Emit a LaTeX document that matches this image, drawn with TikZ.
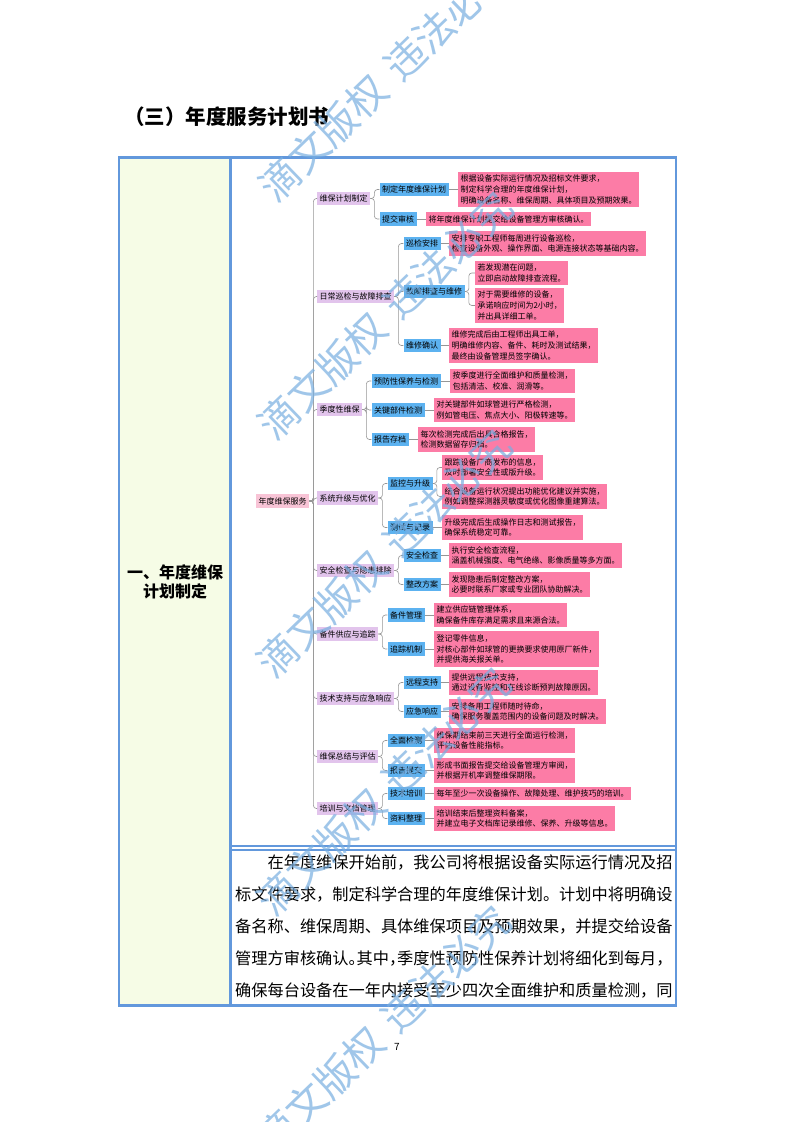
\documentclass[tikz,border=0pt]{standalone}
\usepackage{fontspec}
\setmainfont{Noto Sans CJK SC}
\usetikzlibrary{calc,positioning}
\definecolor{tblue}{RGB}{98,152,220}
\definecolor{lfill}{RGB}{246,252,230}
\definecolor{rootc}{RGB}{248,196,214}
\definecolor{lonec}{RGB}{226,196,236}
\definecolor{ltwoc}{RGB}{92,178,240}
\definecolor{leafc}{RGB}{252,124,166}
\definecolor{wmc}{RGB}{120,175,225}
\definecolor{connc}{RGB}{150,150,150}
\tikzset{
  mm/.style={inner xsep=2.5pt, inner ysep=3pt, font=\fontsize{8}{10.8}\selectfont, align=left, text=black, anchor=west},
  rootbox/.style={mm, fill=rootc},
  lone/.style={mm, fill=lonec},
  ltwo/.style={mm, fill=ltwoc},
  leaf/.style={mm, fill=leafc},
  conn/.style={draw=connc, line width=0.6pt, rounded corners=3pt},
  tline/.style={draw=tblue, line width=2.5pt},
  cline/.style={draw=tblue, line width=2pt},
  bodyline/.style={anchor=west, inner sep=0pt, font=\fontsize{16.2}{18}\selectfont},
  wm/.style={text=wmc, opacity=0.7, rotate=44, anchor=west, inner sep=0pt, font=\fontsize{40}{42}\selectfont},
}
\newcommand{\hp}[1]{{\addfontfeature{RawFeature=+halt}#1}}
\begin{document}
\begin{tikzpicture}[x=1pt,y=-1pt]
\useasboundingbox (0,0) rectangle (793,1122);
\fill[white] (0,0) rectangle (793,1122);
% title
\node[font=\fontsize{20.5}{24}\selectfont\bfseries, anchor=west, inner sep=0pt] (title) at (124,117) {（三）年度服务计划书};
% table
\fill[lfill] (120,158) rectangle (230,1004);
\draw[tline] (118.75,157.25) rectangle (675.75,1005.25);
\draw[tline] (230.5,157.25) -- (230.5,1005.25);
\draw[cline] (231,845.5) -- (675,845.5);
\draw[cline] (231,849.5) -- (675,849.5);
\node[font=\fontsize{16}{19.5}\selectfont\bfseries, align=center] (lab) at (175,582) {一、年度维保\\计划制定};
% body text
\node[bodyline] (p1) at (267.4,862) {在年度维保开始前，我公司将根据设备实际运行情况及招};
\node[bodyline] (p2) at (235,894) {标文件要求，制定科学合理的年度维保计划。计划中将明确设};
\node[bodyline] (p3) at (235,926) {备名称、维保周期、具体维保项目及预期效果，并提交给设备};
\node[bodyline] (p4) at (235,958) {管理方审核确认\hp{。}其中\hp{，}季度性预防性保养计划将细化到每月，};
\node[bodyline] (p5) at (235,990) {确保每台设备在一年内接受至少四次全面维护和质量检测，同};
% page number
\node[font=\fontsize{10}{12}\selectfont, inner sep=0pt] (pg) at (397,1047) {7};

% mind map
\node[rootbox] (root) at (256,501) {年度维保服务};
\node[lone] (n1) at (317,198.5) {维保计划制定};
\node[lone] (n2) at (317,296.5) {日常巡检与故障排查};
\node[lone] (n3) at (317,409.5) {季度性维保};
\node[lone] (n4) at (317,498) {系统升级与优化};
\node[lone] (n5) at (317,570.5) {安全检查与隐患排除};
\node[lone] (n6) at (317,634) {备件供应与追踪};
\node[lone] (n7) at (317,698.5) {技术支持与应急响应};
\node[lone] (n8) at (317,756.5) {维保总结与评估};
\node[lone] (n9) at (317,808.5) {培训与文档管理};
\foreach \n in {n1,n2,n3,n4,n5,n6,n7,n8,n9}
  \draw[conn] (root.east) -- ++(4,0) |- (\n.west);

% level 2
\node[ltwo] (a1) at ($(n1.east |- 0,189.5)+(9,0)$) {制定年度维保计划};
\node[ltwo] (a2) at ($(n1.east |- 0,219)+(9,0)$) {提交审核};
\node[ltwo] (b1) at ($(n2.east |- 0,243.5)+(9,0)$) {巡检安排};
\node[ltwo] (b2) at ($(n2.east |- 0,291.5)+(9,0)$) {故障排查与维修};
\node[ltwo] (b3) at ($(n2.east |- 0,345.5)+(9,0)$) {维修确认};
\node[ltwo] (c1) at ($(n3.east |- 0,381)+(9,0)$) {预防性保养与检测};
\node[ltwo] (c2) at ($(n3.east |- 0,410)+(9,0)$) {关键部件检测};
\node[ltwo] (c3) at ($(n3.east |- 0,439.5)+(9,0)$) {报告存档};
\node[ltwo] (d1) at ($(n4.east |- 0,483.5)+(9,0)$) {监控与升级};
\node[ltwo] (d2) at ($(n4.east |- 0,527.5)+(9,0)$) {测试与记录};
\node[ltwo] (e1) at ($(n5.east |- 0,555.5)+(9,0)$) {安全检查};
\node[ltwo] (e2) at ($(n5.east |- 0,584.5)+(9,0)$) {整改方案};
\node[ltwo] (f1) at ($(n6.east |- 0,615)+(9,0)$) {备件管理};
\node[ltwo] (f2) at ($(n6.east |- 0,649)+(9,0)$) {追踪机制};
\node[ltwo] (g1) at ($(n7.east |- 0,682.5)+(9,0)$) {远程支持};
\node[ltwo] (g2) at ($(n7.east |- 0,711.5)+(9,0)$) {应急响应};
\node[ltwo] (h1) at ($(n8.east |- 0,740.5)+(9,0)$) {全面检测};
\node[ltwo] (h2) at ($(n8.east |- 0,770.5)+(9,0)$) {报告提交};
\node[ltwo] (i1) at ($(n9.east |- 0,793.5)+(9,0)$) {技术培训};
\node[ltwo] (i2) at ($(n9.east |- 0,818.5)+(9,0)$) {资料整理};
\foreach \p/\c in {n1/a1,n1/a2,n2/b1,n2/b2,n2/b3,n3/c1,n3/c2,n3/c3,n4/d1,n4/d2,n5/e1,n5/e2,n6/f1,n6/f2,n7/g1,n7/g2,n8/h1,n8/h2,n9/i1,n9/i2}
  \draw[conn] (\p.east) -- ++(4,0) |- (\c.west);

% leaves
\node[leaf, right=9pt of a1] (a1x) {根据设备实际运行情况及招标文件要求，\\制定科学合理的年度维保计划，\\明确设备名称、维保周期、具体项目及预期效果。};
\node[leaf, right=9pt of a2] (a2x) {将年度维保计划提交给设备管理方审核确认。};
\node[leaf, right=8pt of b1] (b1x) {安排专职工程师每周进行设备巡检，\\检查设备外观、操作界面、电源连接状态等基础内容。};
\node[leaf] (b2x) at ($(b2.east |- 0,273)+(10,0)$) {若发现潜在问题，\\立即启动故障排查流程。};
\node[leaf] (b2y) at ($(b2.east |- 0,305.5)+(10,0)$) {对于需要维修的设备，\\承诺响应时间为2小时，\\并出具详细工单。};
\node[leaf, right=8pt of b3] (b3x) {维修完成后由工程师出具工单，\\明确维修内容、备件、耗时及测试结果，\\最终由设备管理员签字确认。};
\node[leaf, right=9pt of c1] (c1x) {按季度进行全面维护和质量检测，\\包括清洁、校准、润滑等。};
\node[leaf, right=9pt of c2] (c2x) {对关键部件如球管进行严格检测，\\例如管电压、焦点大小、阳极转速等。};
\node[leaf, right=9pt of c3] (c3x) {每次检测完成后出具合格报告，\\检测数据留存归档。};
\node[leaf] (d1x) at ($(d1.east |- 0,467.5)+(9,0)$) {跟踪设备厂商发布的信息，\\及时部署安全性或版升级。};
\node[leaf] (d1y) at ($(d1.east |- 0,496.5)+(9,0)$) {结合设备运行状况提出功能优化建议并实施，\\例如调整探测器灵敏度或优化图像重建算法。};
\node[leaf, right=9pt of d2] (d2x) {升级完成后生成操作日志和测试报告，\\确保系统稳定可靠。};
\node[leaf, right=8pt of e1] (e1x) {执行安全检查流程，\\涵盖机械强度、电气绝缘、影像质量等多方面。};
\node[leaf, right=8pt of e2] (e2x) {发现隐患后制定整改方案，\\必要时联系厂家或专业团队协助解决。};
\node[leaf, right=9pt of f1] (f1x) {建立供应链管理体系，\\确保备件库存满足需求且来源合法。};
\node[leaf, right=9pt of f2] (f2x) {登记零件信息，\\对核心部件如球管的更换要求使用原厂新件，\\并提供海关报关单。};
\node[leaf, right=8pt of g1] (g1x) {提供远程技术支持，\\通过设备监控和在线诊断预判故障原因。};
\node[leaf, right=8pt of g2] (g2x) {安排备用工程师随时待命，\\确保服务覆盖范围内的设备问题及时解决。};
\node[leaf, right=9pt of h1] (h1x) {维保期结束前三天进行全面运行检测，\\评估设备性能指标。};
\node[leaf, right=9pt of h2] (h2x) {形成书面报告提交给设备管理方审阅，\\并根据开机率调整维保期限。};
\node[leaf, right=9pt of i1] (i1x) {每年至少一次设备操作、故障处理、维护技巧的培训。};
\node[leaf, right=9pt of i2] (i2x) {培训结束后整理资料备案，\\并建立电子文档库记录维修、保养、升级等信息。};
\foreach \p/\c in {a1/a1x,a2/a2x,b1/b1x,b3/b3x,c1/c1x,c2/c2x,c3/c3x,d2/d2x,e1/e1x,e2/e2x,f1/f1x,f2/f2x,g1/g1x,g2/g2x,h1/h1x,h2/h2x,i1/i1x,i2/i2x}
  \draw[conn] (\p.east) -- (\c.west);
\foreach \p/\c in {b2/b2x,b2/b2y,d1/d1x,d1/d1y}
  \draw[conn] (\p.east) -- ++(4,0) |- (\c.west);

% watermark
\foreach \k in {0,...,4}
  \node[wm] (wm\k) at (265.6-0.7*\k,193.9+238*\k) {滴文版权\hspace{14pt}违法必究};
\end{tikzpicture}
\end{document}
